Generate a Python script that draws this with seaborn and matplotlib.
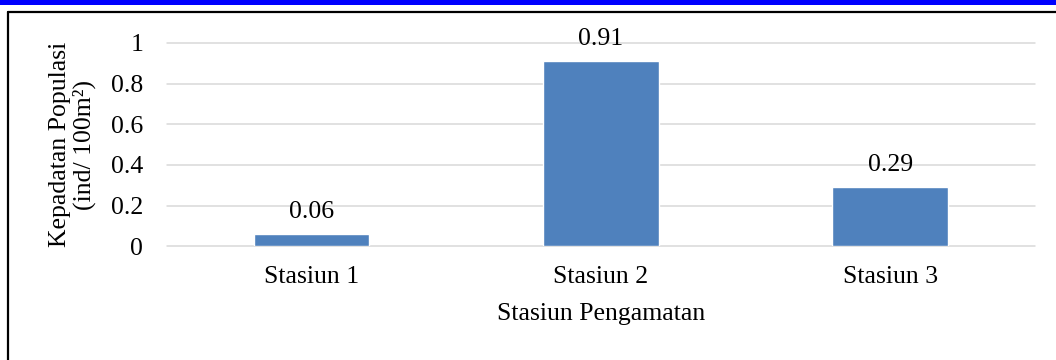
import matplotlib
matplotlib.use("Agg")
import matplotlib.pyplot as plt
from matplotlib.lines import Line2D
from matplotlib.patches import Rectangle
import seaborn as sns
import pandas as pd

# Population density per observation station
stations = ["Stasiun 1", "Stasiun 2", "Stasiun 3"]
density = [0.06, 0.91, 0.29]
y_ticks = [0, 0.2, 0.4, 0.6, 0.8, 1]
y_tick_labels = ["0", "0.2", "0.4", "0.6", "0.8", "1"]

df = pd.DataFrame({"Stasiun": stations, "Kepadatan": density})

sns.set_theme(style="white")
plt.rcParams["font.family"] = ["Liberation Serif", "DejaVu Serif"]
plt.rcParams["font.size"] = 18.5

fig = plt.figure(figsize=(10.56, 3.6), dpi=100)
ax = fig.add_axes([0.1581, 0.3158, 0.8220, 0.5653])

sns.barplot(data=df, x="Stasiun", y="Kepadatan", color="#4F81BD",
            saturation=1, width=0.4, ax=ax, zorder=3)

ax.set_ylim(0, 1)
ax.set_xlim(-0.5, 2.5)
ax.set_yticks(y_ticks)
ax.set_yticklabels(y_tick_labels)
ax.yaxis.grid(True, color="#D9D9D9", linewidth=1.1, zorder=0)
ax.set_axisbelow(True)
for gl in ax.get_ygridlines():
    gl.set_clip_on(False)
for s in ax.spines.values():
    s.set_visible(False)
ax.tick_params(axis="y", length=0, pad=17, labelsize=18.5, colors="black")
ax.tick_params(axis="x", length=0, pad=14.5, labelsize=18.5, colors="black")

ax.bar_label(ax.containers[0], labels=[f"{v:.2f}" for v in density],
             padding=8, fontsize=18.5, color="black")

ax.set_xlabel("Stasiun Pengamatan", fontsize=18.5, labelpad=10.5, color="black")
ax.set_ylabel("Kepadatan Populasi\n(ind/ 100m²)", fontsize=18.5,
              labelpad=11, linespacing=1.05, color="black")

# Frame: blue header band and black border
fig.add_artist(Rectangle((0, 1 - 4.5 / 360), 1, 4.5 / 360,
                         transform=fig.transFigure, facecolor="#0000FF",
                         edgecolor="none"))
fig.add_artist(Line2D([8 / 1056, 1], [1 - 11.7 / 360, 1 - 11.7 / 360],
                      transform=fig.transFigure, color="black", linewidth=1.6))
fig.add_artist(Line2D([8 / 1056, 8 / 1056], [0, 1 - 11.7 / 360],
                      transform=fig.transFigure, color="black", linewidth=1.6))

fig.savefig("out.png", dpi=100)
